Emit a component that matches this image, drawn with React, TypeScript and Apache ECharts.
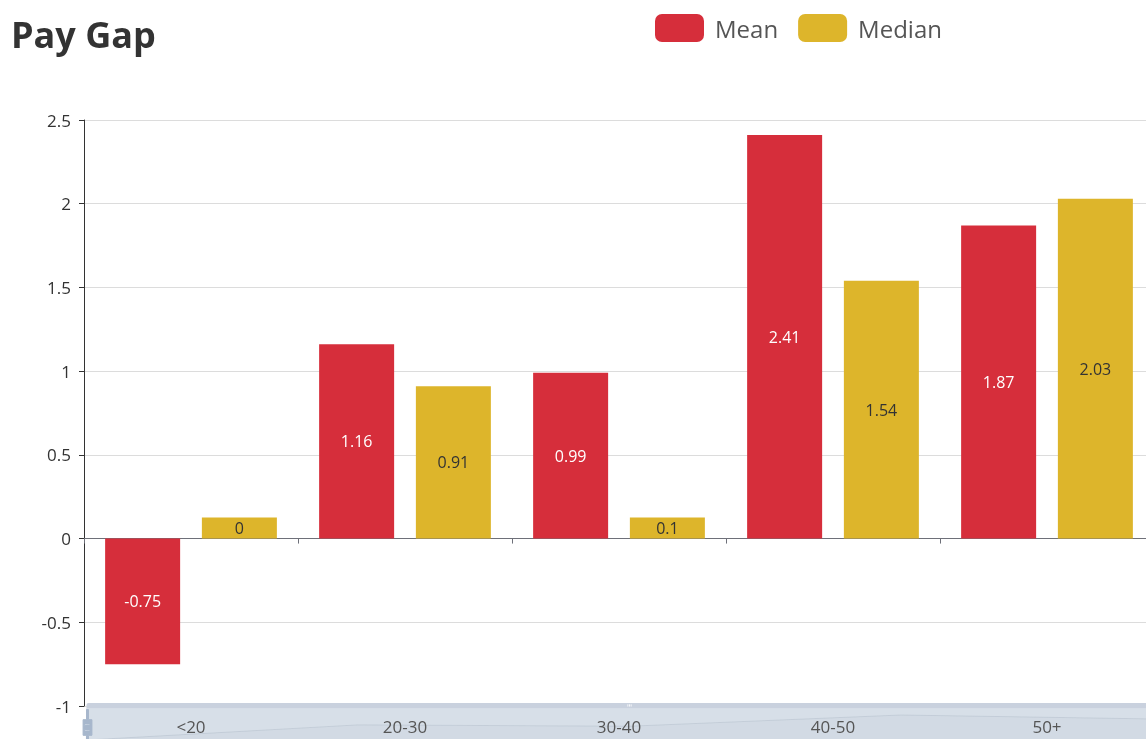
import React, { useEffect, useRef } from "react";
import * as echarts from "echarts";

const categories = ["<20", "20-30", "30-40", "40-50", "50+"];
const meanValues = [-0.75, 1.16, 0.99, 2.41, 1.87];
const medianValues = [0, 0.91, 0.1, 1.54, 2.03];
const seriesNames = ["Mean", "Median"];

const FONT = "'Open Sans', 'Noto Sans', sans-serif";

export default function App() {
  const ref = useRef<HTMLDivElement>(null);
  useEffect(() => {
    document.body.style.margin = "0";
    document.body.style.overflow = "hidden";
    const chart = echarts.init(ref.current!, null, { renderer: "svg" });
    chart.setOption({
      animation: false,
      textStyle: { fontFamily: FONT },
      title: {
        text: "Pay Gap",
        left: 6,
        top: 11,
        textStyle: { fontSize: 36, fontWeight: "bold", color: "#333", fontFamily: FONT },
      },
      legend: {
        data: seriesNames,
        left: 650,
        top: 9,
        itemWidth: 49,
        itemHeight: 28,
        itemGap: 20,
        icon: "roundRect",
        textStyle: { fontSize: 24, color: "#555", padding: [0, 0, 0, 6], fontFamily: FONT },
      },
      grid: { left: 84, top: 120, right: 16, bottom: 54 },
      xAxis: [
        {
          type: "category",
          data: categories,
          axisLine: { onZero: true, lineStyle: { color: "#6e7079" } },
          axisTick: { show: true, lineStyle: { color: "#6e7079" } },
          axisLabel: { show: false },
        },
        {
          type: "category",
          data: categories,
          position: "bottom",
          z: 10,
          axisLine: { show: false, onZero: false },
          axisTick: { show: false },
          axisLabel: { show: true, fontSize: 17, color: "#555", margin: 12, fontFamily: FONT },
        },
      ],
      yAxis: {
        type: "value",
        min: -1,
        max: 2.5,
        interval: 0.5,
        axisLine: { show: true, lineStyle: { color: "#333" } },
        axisTick: { show: true, lineStyle: { color: "#333" } },
        axisLabel: { fontSize: 17, color: "#333", margin: 13, fontFamily: FONT },
        splitLine: { lineStyle: { color: "#dcdcdc" } },
      },
      dataZoom: [
        {
          type: "slider",
          xAxisIndex: [0, 1],
          start: 0,
          end: 100,
          left: 84,
          right: 0,
          top: 703,
          height: 40,
          brushSelect: true,
          moveHandleSize: 5,
          moveHandleStyle: { color: "#c9d1de", opacity: 1 },
          fillerColor: "rgba(167,183,204,0.45)",
          borderColor: "#d5dbe5",
          backgroundColor: "rgba(47,69,84,0)",
          handleIcon:
            "path://M8.2,13.6V3.9H6.3v9.7H3.1v14.9h3.3v9.7h1.8v-9.7h3.3V13.6H8.2z M9.7,24.4H4.8v-1.4h4.9V24.4z M9.7,19.1H4.8v-1.4h4.9V19.1z",
          handleSize: "90%",
          handleStyle: { color: "#a7b7cc", borderColor: "#a7b7cc" },
          dataBackground: {
            lineStyle: { color: "#2f4554", width: 0.5, opacity: 0.3 },
            areaStyle: { color: "rgba(47,69,84,0.3)", opacity: 0.15 },
          },
          selectedDataBackground: {
            lineStyle: { color: "#2f4554", width: 0.5, opacity: 0.3 },
            areaStyle: { color: "rgba(47,69,84,0.3)", opacity: 0.15 },
          },
          showDetail: false,
        },
      ],
      series: [
        {
          name: seriesNames[0],
          type: "bar",
          data: meanValues,
          barWidth: 75,
          barGap: "29%",
          barMinHeight: 21,
          itemStyle: { color: "#d62e3b" },
          label: { show: true, position: "inside", color: "#fff", fontSize: 16, fontFamily: FONT },
        },
        {
          name: seriesNames[1],
          type: "bar",
          data: medianValues,
          barWidth: 75,
          barMinHeight: 21,
          itemStyle: { color: "#ddb52b" },
          label: { show: true, position: "inside", color: "#333", fontSize: 16, fontFamily: FONT },
        },
      ],
    });
    return () => chart.dispose();
  }, []);
  return (
    <div
      ref={ref}
      style={{ position: "fixed", left: 0, top: 0, width: 1170, height: 760 }}
    />
  );
}
